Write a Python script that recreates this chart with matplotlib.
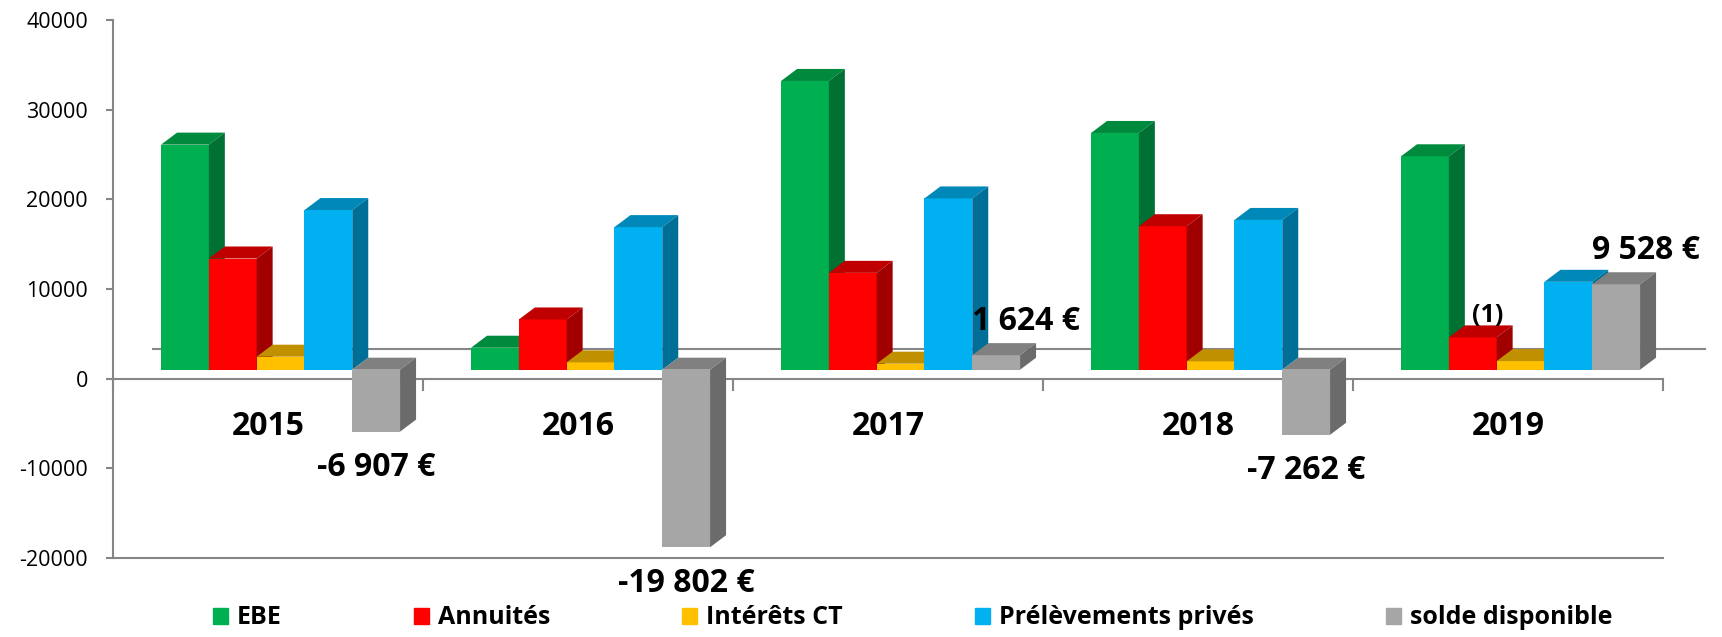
import numpy as np
import matplotlib
matplotlib.use('Agg')
import matplotlib.pyplot as plt
from matplotlib.patches import Patch

years = ['2015', '2016', '2017', '2018', '2019']
series = ['EBE', 'Annuités', 'Intérêts CT', 'Prélèvements privés', 'solde disponible']
ebe = [25100, 2450, 32200, 26400, 23800]
annuites = [12400, 5600, 10800, 16000, 3600]
interets = [1450, 820, 670, 930, 960]
prelevements = [17800, 15900, 19100, 16700, 9800]
solde = [-6907, -19802, 1624, -7262, 9528]
solde_labels = ['-6 907 €', '-19 802 €', '1 624 €', '-7 262 €', '9 528 €']

# front / top / side shades for the fake 3d look
front = ['#00B050', '#FF0000', '#FFC000', '#00B0F0', '#A6A6A6']
top = ['#008A3E', '#C00000', '#C09000', '#0088B8', '#808080']
side = ['#007033', '#A00000', '#A07800', '#006F98', '#6B6B6B']

plt.rcParams['font.family'] = ['Open Sans', 'DejaVu Sans']
AXC = '#868686'

fig = plt.figure(figsize=(17.22, 6.37), dpi=100)
ax = fig.add_axes([113/1722, 1-558/637, 1550/1722, 538/637])
ax.set_xlim(-0.5, 4.5)
ax.set_ylim(-20000, 40000)

W = 0.1542       # bar width in category units
START = -0.345   # left edge of first bar relative to category centre
DX = 0.0516      # depth shift (x)
DY = 1340        # depth shift (y)
LIFT = 1000      # front plane sits a bit above the value axis zero

data = [ebe, annuites, interets, prelevements, solde]
z = 3
for i in range(len(years)):
    for j, vals in enumerate(data):
        x0 = i + START + j * W
        v = vals[i]
        ax.bar(x0, v, width=W, bottom=LIFT, align='edge', color=front[j],
               linewidth=0, zorder=z)
        lo, hi = min(LIFT, LIFT + v), max(LIFT, LIFT + v)
        ax.fill([x0, x0 + W, x0 + W + DX, x0 + DX], [hi, hi, hi + DY, hi + DY],
                color=top[j], lw=0, zorder=z)
        ax.fill([x0 + W, x0 + W + DX, x0 + W + DX, x0 + W], [lo, lo + DY, hi + DY, hi],
                color=side[j], lw=0, zorder=z)
        z += 1

    # label for solde
    xc = i + START + 4 * W + W / 2
    v = solde[i]
    if v >= 0:
        ax.annotate(solde_labels[i], (xc, LIFT + v), xytext=(30, 34), textcoords='offset pixels',
                    ha='center', va='center', fontsize=23, fontweight='bold', zorder=100)
    else:
        ax.annotate(solde_labels[i], (xc, LIFT + v), xytext=(0, -36), textcoords='offset pixels',
                    ha='center', va='center', fontsize=23, fontweight='bold', zorder=100)

    ax.annotate(years[i], (i, 0), xytext=(0, -48), textcoords='offset pixels',
                ha='center', va='center', fontsize=23, fontweight='bold')

# note on 2019 annuités
xr = 4 + START + 1 * W + W / 2
ax.annotate('(1)', (xr, LIFT + annuites[4]), xytext=(15, 22), textcoords='offset pixels',
            ha='center', va='center', fontsize=18, fontweight='bold', zorder=100)

# floor back edge and bottom edge
ax.plot([-0.5 + 0.129, 4.5 + 0.135], [3345, 3345], color=AXC, lw=1.5, zorder=1, clip_on=False)
ax.plot([-0.5, 4.5], [-20000, -20000], color=AXC, lw=1.5, zorder=2, clip_on=False)

ax.spines['top'].set_visible(False)
ax.spines['right'].set_visible(False)
ax.spines['left'].set_color(AXC)
ax.spines['left'].set_linewidth(1.5)
ax.spines['bottom'].set_color(AXC)
ax.spines['bottom'].set_linewidth(1.5)
ax.spines['bottom'].set_position(('data', 0))

yt = list(range(-20000, 40001, 10000))
ax.set_yticks(yt)
ax.set_yticklabels([str(v) for v in yt])
ax.tick_params(axis='y', length=5, width=1.5, color=AXC, labelsize=15.5, pad=13)
ax.set_xticks(np.arange(-0.5, 5, 1))
ax.set_xticklabels([''] * 6)
ax.tick_params(axis='x', length=8.6, width=1.5, color=AXC, direction='out')

handles = [Patch(color=c) for c in front]
fig.legend(handles, series, loc='center', bbox_to_anchor=(0.530, 1 - 618/637), ncol=5,
           frameon=False, handlelength=0.6, handleheight=0.6, handletextpad=0.35,
           columnspacing=5.3, prop={'size': 18, 'weight': 'bold'})

fig.savefig('out.png', dpi=100)
